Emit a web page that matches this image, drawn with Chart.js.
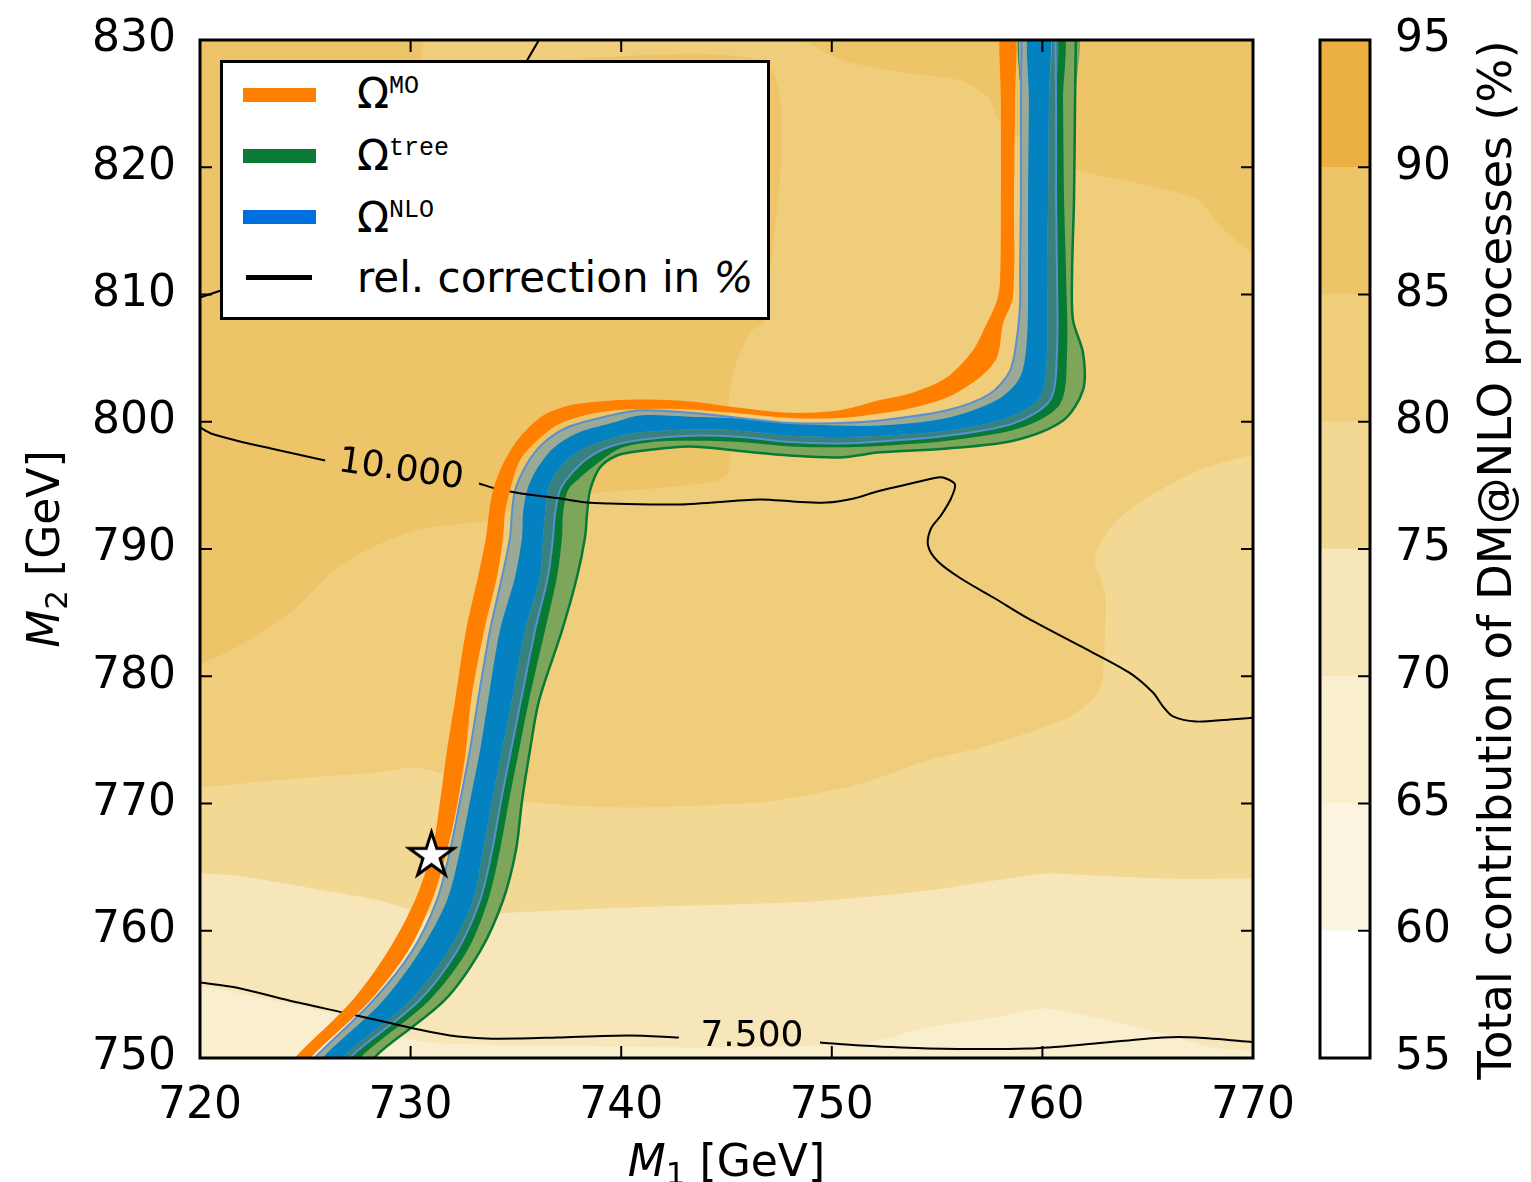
<!DOCTYPE html>
<html>
<head>
<meta charset="utf-8">
<script src="https://cdn.jsdelivr.net/npm/chart.js@4.4.0/dist/chart.umd.min.js"></script>
<style>
  html, body { margin: 0; padding: 0; background: #fff; overflow: hidden; }
  #wrap { position: relative; width: 1531px; height: 1182px; font-family: 'DejaVu Sans', sans-serif; }
  #main { position: absolute; left: 0; top: 0; }
  #bar { position: absolute; left: 1290px; top: 0; }
  #legend { position: absolute; left: 220px; top: 60px; width: 544px; height: 254px; border: 3px solid #000; background: #fff; }
  .sw { position: absolute; left: 20px; width: 73px; height: 14px; }
  .lab { position: absolute; left: 134px; font-size: 42px; line-height: 42px; white-space: nowrap; color: #000; }
  .sup { font-family: 'Liberation Mono', monospace; font-size: 25px; position: relative; top: -15px; }
</style>
</head>
<body>
<div id="wrap">
  <canvas id="main" width="1531" height="1182"></canvas>
  <canvas id="bar" width="241" height="1182"></canvas>
  <div id="legend">
    <div class="sw" style="top:25px;background:#ff8000"></div>
    <div class="lab" style="top:10px">Ω<span class="sup">MO</span></div>
    <div class="sw" style="top:86px;background:#0b7a36"></div>
    <div class="lab" style="top:72px">Ω<span class="sup">tree</span></div>
    <div class="sw" style="top:147px;background:#006edc"></div>
    <div class="lab" style="top:134px">Ω<span class="sup">NLO</span></div>
    <div class="sw" style="top:212px;left:23px;width:66px;height:5px;background:#000"></div>
    <div class="lab" style="top:194px">rel. correction in <i>%</i></div>
  </div>
</div>
<script>
Chart.defaults.font.family = "'DejaVu Sans', sans-serif";

// axes
const xTickValues = [720, 730, 740, 750, 760, 770];
const yTickValues = [750, 760, 770, 780, 790, 800, 810, 820, 830];

// colour levels (total contribution in %)
const levelEdges = [55, 60, 65, 70, 75, 80, 85, 90, 95];
const levelColors = ['#ffffff', '#fbf4e0', '#f9eece', '#f6e6b9', '#f2d892', '#f0cd7a', '#eec468', '#ebb040'];

// filled contour regions [M1, M2]
const fillBase80 = [[719, 749], [771, 749], [771, 831], [719, 831]];
const fill85Left = [[719, 831], [730.45, 831], [730.68, 828.23], [746.83, 828.23], [746.83, 807.96], [746.21, 807.17], [745.93, 806.39], [745.45, 804.58], [745.12, 801.91], [745.12, 796.17], [744.60, 795.38], [742.03, 794.83], [738.66, 794.36], [735.24, 793.26], [733.58, 792.24], [730.16, 791.45], [726.79, 788.86], [724.23, 784.93], [721.71, 782.26], [720, 781.0], [719, 780.6]];
const fill85Top = [[748.63, 831], [771, 831], [771, 813.38], [770, 813.38], [768.57, 815.19], [767.29, 817.54], [764.11, 818.88], [761.74, 819.74], [759.89, 821.32], [758.03, 823.36], [757.42, 825.48], [756.13, 826.82], [753.76, 827.37], [750.53, 828.39], [748.63, 830]];
const fill75 = [[771, 797.43], [770, 797.43], [767.29, 796.09], [764.92, 793.97], [763.30, 791.85], [762.50, 789.25], [762.97, 786.58], [762.97, 783.44], [762.83, 779.51], [762.36, 778.09], [760.93, 776.52], [757.75, 774.72], [754.57, 773.38], [751.39, 771.57], [748.21, 770.47], [746.59, 770.08], [740.37, 769.69], [735.24, 770.24], [731.87, 772.20], [730.16, 772.83], [728.50, 772.44], [725.08, 772.04], [720, 771.26], [719, 771.2], [719, 749], [771, 749]];
const fill70 = [[719, 764.5], [720, 764.50], [721.71, 764.34], [725.08, 763.40], [728.50, 762.38], [730.87, 761.36], [733.58, 761.36], [736.95, 761.59], [740.37, 761.83], [746.59, 762.14], [749.77, 762.38], [754.57, 763.16], [757.75, 763.95], [760.12, 764.50], [762.50, 764.34], [765.73, 764.11], [770, 764.11], [771, 764.11], [771, 749], [719, 749]];
const fill65 = [[719, 755.8], [720, 755.70], [722.37, 754.91], [725.70, 753.73], [728.55, 752.16], [730.92, 751.22], [737.09, 750.98], [743.74, 750.83], [751.39, 751.14], [754.57, 752.40], [757.75, 753.18], [760.12, 753.89], [762.50, 753.18], [765.73, 751.93], [768.10, 750.83], [770, 750.59], [771, 750.55], [771, 749], [719, 749]];

// relic density bands: edges of each band [M1, M2]
const moLeft = [[723.94, 749.0], [724.84, 750.6], [727.22, 754.5], [728.93, 758.4], [730.21, 762.4], [731.02, 766.3], [731.40, 770.2], [731.73, 774.2], [732.11, 778.1], [732.63, 783.6], [733.20, 787.8], [733.58, 790.9], [733.72, 792.8], [733.91, 794.6], [734.39, 796.7], [735.19, 798.8], [736.29, 800.5], [737.57, 801.3], [738.99, 801.6], [740.89, 801.75], [743.27, 801.6], [745.64, 801.1], [748.01, 800.7], [750.39, 800.9], [752.29, 801.7], [753.86, 802.3], [755.47, 803.5], [756.70, 805.6], [757.27, 807.4], [757.84, 809.5], [757.99, 811.1], [758.03, 817.4], [758.03, 825.25], [758.03, 831.5]];
const moRight = [[724.65, 749.0], [725.60, 750.6], [728.07, 754.5], [729.88, 758.4], [731.02, 762.4], [731.73, 766.3], [732.25, 770.2], [732.63, 774.2], [732.87, 778.1], [733.49, 783.6], [734.10, 787.8], [734.39, 790.9], [734.48, 792.8], [734.72, 794.6], [735.19, 796.95], [736.00, 798.5], [737.09, 799.86], [738.66, 800.65], [740.28, 800.96], [742.79, 801.0], [745.64, 800.65], [748.01, 800.3], [750.39, 800.3], [752.29, 800.65], [753.86, 801.1], [755.47, 801.9], [757.04, 803.5], [757.84, 805.05], [758.13, 807.7], [758.60, 809.8], [758.65, 817.4], [758.70, 825.25], [758.70, 831.5]];
const nloLeft = [[724.84, 749.0], [725.79, 750.6], [728.21, 754.5], [730.07, 758.4], [731.25, 762.4], [731.87, 766.3], [732.35, 770.2], [732.82, 774.2], [733.20, 778.1], [733.77, 783.6], [734.34, 787.8], [734.72, 790.9], [734.81, 792.8], [734.96, 794.6], [735.53, 796.7], [736.29, 798.3], [737.43, 799.55], [738.99, 800.3], [740.89, 800.9], [743.27, 800.7], [745.64, 800.3], [748.01, 799.9], [750.39, 799.9], [752.29, 800.1], [755.47, 800.9], [757.51, 802.2], [758.46, 804.0], [758.79, 806.6], [758.94, 809.3], [758.94, 811.9], [758.98, 817.4], [758.98, 825.25], [759.03, 831.5]];
const nloCoreLeft = [[725.22, 749.0], [726.17, 750.6], [728.69, 754.5], [730.45, 758.4], [731.73, 762.4], [732.35, 766.3], [732.82, 770.2], [733.30, 774.2], [733.68, 778.1], [734.24, 783.6], [734.96, 787.8], [735.29, 790.9], [735.34, 792.8], [735.53, 794.6], [736.00, 796.3], [736.76, 797.9], [737.90, 799.1], [739.47, 799.86], [740.89, 800.5], [743.27, 800.4], [745.64, 800.26], [748.01, 799.86], [750.39, 799.7], [752.29, 799.7], [755.47, 800.3], [757.84, 801.7], [758.94, 803.5], [759.27, 806.6], [759.32, 811.9], [759.32, 817.4], [759.36, 825.25], [759.36, 831.5]];
const nloCoreRight = [[726.17, 749.0], [727.12, 750.6], [729.97, 754.5], [731.78, 758.4], [732.96, 762.4], [733.44, 766.3], [733.87, 770.2], [734.34, 774.2], [734.81, 778.1], [735.43, 783.6], [736.14, 787.8], [736.29, 790.9], [736.38, 792.8], [736.52, 794.6], [737.00, 796.2], [737.81, 797.5], [738.99, 798.4], [740.56, 799.1], [743.27, 799.4], [745.64, 799.3], [748.01, 798.9], [750.39, 798.8], [752.29, 798.9], [755.47, 799.3], [758.32, 800.3], [759.89, 801.9], [760.22, 805.4], [760.22, 811.9], [760.27, 817.4], [760.31, 825.25], [760.31, 831.5]];
const nloRight = [[726.55, 749.0], [727.50, 750.6], [730.40, 754.5], [732.20, 758.4], [733.30, 762.4], [733.87, 766.3], [734.29, 770.2], [734.77, 774.2], [735.24, 778.1], [735.91, 783.6], [736.52, 787.8], [736.76, 790.9], [736.86, 792.8], [737.09, 794.6], [737.57, 795.8], [738.38, 797.1], [739.47, 798.06], [741.03, 798.6], [743.27, 798.9], [745.64, 798.8], [748.01, 798.4], [750.39, 798.3], [752.29, 798.45], [755.47, 798.9], [758.60, 799.86], [760.36, 801.7], [760.69, 805.4], [760.69, 811.9], [760.65, 817.4], [760.65, 825.25], [760.60, 831.5]];
const treeMid = [[727.03, 749.0], [727.98, 750.6], [730.87, 754.5], [732.68, 758.4], [733.68, 762.4], [734.24, 766.3], [734.67, 770.2], [735.15, 774.2], [735.62, 778.1], [736.38, 783.6], [736.95, 787.8], [737.19, 790.9], [737.24, 792.8], [737.47, 794.6], [738.04, 795.6], [738.85, 796.7], [739.94, 797.9], [741.51, 798.4], [743.27, 798.5], [745.64, 798.4], [748.01, 798.06], [750.39, 798.0], [752.29, 798.1], [755.47, 798.5], [758.94, 799.5], [760.84, 801.4], [761.17, 805.4], [761.12, 811.9], [761.03, 817.4], [760.98, 825.25], [760.93, 831.5]];
const treeRight = [[727.69, 749.0], [728.64, 750.6], [731.59, 754.5], [733.30, 758.4], [734.39, 762.4], [735.00, 766.3], [735.29, 770.2], [735.67, 774.2], [736.10, 778.1], [737.19, 783.6], [737.90, 787.8], [738.28, 790.9], [738.38, 792.8], [738.52, 794.6], [738.99, 796.4], [739.80, 797.35], [740.89, 797.7], [743.27, 798.06], [745.64, 797.7], [748.01, 797.35], [750.39, 797.2], [752.29, 797.6], [755.47, 797.9], [758.60, 798.5], [760.98, 800.1], [761.93, 802.5], [761.93, 805.4], [761.45, 808.0], [761.41, 811.9], [761.50, 817.4], [761.55, 825.25], [761.60, 831.5]];

// relative correction contours [M1, M2]
const corr10Left = [[720.0, 799.55], [720.52, 799.08], [721.71, 798.53], [723.37, 797.90], [725.94, 796.96]];
const corr10Right = [[733.25, 795.15], [734.05, 794.75], [735.24, 794.36], [737.09, 793.97], [738.38, 793.65], [739.47, 793.58], [742.79, 793.50], [746.59, 793.89], [748.16, 793.73], [749.77, 793.65], [751.05, 793.97], [752.15, 794.52], [753.76, 795.15], [755.04, 795.62], [755.42, 795.54], [755.85, 795.07], [755.66, 793.97], [755.18, 792.63], [754.71, 791.61], [754.57, 790.28], [755.04, 789.02], [756.13, 787.68], [757.75, 786.11], [759.32, 784.54], [761.74, 782.42], [764.11, 780.30], [765.25, 778.72], [765.73, 777.62], [766.20, 776.84], [767.29, 776.44], [768.91, 776.60], [770.24, 776.76]];
const corr75Left = [[720.0, 755.93], [721.71, 755.54], [724.23, 754.52], [726.79, 753.58], [728.50, 752.95], [730.16, 752.32], [731.87, 751.77], [733.58, 751.53], [735.24, 751.53], [736.95, 751.61], [740.37, 751.77], [742.74, 751.61]];
const corr75Right = [[749.44, 751.22], [751.39, 750.98], [754.57, 750.75], [759.32, 750.75], [762.50, 751.14], [765.73, 751.61], [767.29, 751.61], [770.19, 751.22]];
const corrTopStub = [[735.29, 827.6], [735.53, 828.39], [736.14, 830.12]];
const corrLeftStub = [[720.0, 809.76], [720.85, 810.24], [721.42, 810.55]];

const contourLabelText = ['10.000', '7.500'];
const contourLabelX = [729.54, 746.21];
const contourLabelY = [796.17, 751.69];
const contourLabelAngle = [8, 0];

// benchmark point
const starPoint = [730.99, 765.9];

const toPts = a => a.map(p => ({ x: p[0], y: p[1] }));
const band = (a, b) => a.concat(b.slice().reverse());

const datasets = [];
function addPoly(pts, color, tension) {
  datasets.push({
    data: toPts(pts), showLine: true, fill: 'shape', backgroundColor: color,
    borderColor: 'transparent', borderWidth: 0, pointRadius: 0, tension: tension, clip: 0
  });
}
function addLine(pts, color, width) {
  datasets.push({
    data: toPts(pts), showLine: true, fill: false, borderColor: color,
    borderWidth: width, pointRadius: 0, tension: 0.3, clip: 0
  });
}

// background levels
addPoly(fillBase80, levelColors[5], 0);
addPoly(fill85Left, levelColors[6], 0.25);
addPoly(fill85Top, levelColors[6], 0.25);
addPoly(fill75, levelColors[4], 0.25);
addPoly(fill70, levelColors[3], 0.25);
addPoly(fill65, levelColors[2], 0.25);

// tree / NLO bands
addPoly(band(nloLeft, treeRight), '#7da65b', 0.3);
addPoly(band(nloLeft, treeMid), '#077a34', 0.3);
addPoly(band(nloLeft, nloRight), '#37817f', 0.3);
addPoly(band(nloLeft, nloCoreRight), '#9baa97', 0.3);
addPoly(band(nloCoreLeft, nloCoreRight), '#0381c1', 0.3);
addLine(nloLeft, '#5a8fd2', 2);
addLine(nloRight, '#5a8fd2', 2);
addLine(treeRight, '#077a34', 2.5);

// contours
addLine(corr10Left, '#000', 2);
addLine(corr10Right, '#000', 2);
addLine(corr75Left, '#000', 2);
addLine(corr75Right, '#000', 2);
addLine(corrTopStub, '#000', 2);
addLine(corrLeftStub, '#000', 2);

// MicrOMEGAs band on top
addPoly(band(moLeft, moRight), '#ff8000', 0.3);

// star marker
function makeStar(r) {
  const c = document.createElement('canvas');
  const s = Math.ceil(2 * r + 8);
  c.width = s; c.height = s;
  const g = c.getContext('2d');
  g.translate(s / 2, s / 2);
  g.beginPath();
  for (let i = 0; i < 10; i++) {
    const rad = i % 2 ? r * 0.382 : r;
    const a = -Math.PI / 2 + i * Math.PI / 5;
    g.lineTo(rad * Math.cos(a), rad * Math.sin(a));
  }
  g.closePath();
  g.fillStyle = '#fff';
  g.fill();
  g.lineWidth = 3;
  g.strokeStyle = '#000';
  g.stroke();
  return c;
}
datasets.push({ data: toPts([starPoint]), pointStyle: makeStar(23.5), pointRadius: 24, showLine: false });

// first dataset in the list is drawn first
datasets.forEach((d, i) => { d.order = datasets.length - i; });

const contourText = {
  id: 'contourText',
  afterDatasetsDraw(chart) {
    const { ctx, scales: { x, y } } = chart;
    ctx.save();
    ctx.font = "36px 'DejaVu Sans'";
    ctx.fillStyle = '#000';
    ctx.textAlign = 'center';
    ctx.textBaseline = 'middle';
    contourLabelText.forEach((t, i) => {
      ctx.save();
      ctx.translate(x.getPixelForValue(contourLabelX[i]), y.getPixelForValue(contourLabelY[i]));
      ctx.rotate(contourLabelAngle[i] * Math.PI / 180);
      ctx.fillText(t, 0, 0);
      ctx.restore();
    });
    ctx.restore();
  }
};

const axesFrame = {
  id: 'axesFrame',
  afterDatasetsDraw(chart) {
    const { ctx, chartArea: a, scales: { x, y } } = chart;
    ctx.save();
    ctx.strokeStyle = '#000';
    ctx.lineWidth = 2;
    ctx.beginPath();
    xTickValues.forEach(v => {
      const px = x.getPixelForValue(v);
      ctx.moveTo(px, a.bottom); ctx.lineTo(px, a.bottom - 12);
      ctx.moveTo(px, a.top); ctx.lineTo(px, a.top + 12);
    });
    yTickValues.forEach(v => {
      const py = y.getPixelForValue(v);
      ctx.moveTo(a.left, py); ctx.lineTo(a.left + 12, py);
      ctx.moveTo(a.right, py); ctx.lineTo(a.right - 12, py);
    });
    ctx.stroke();
    ctx.lineWidth = 3;
    ctx.strokeRect(a.left, a.top, a.right - a.left, a.bottom - a.top);
    ctx.restore();
  }
};

// M_1 / M_2 titles with italic M and subscript
function drawMassTitle(ctx, idx) {
  const big = "44px 'DejaVu Sans'";
  ctx.font = "italic " + big;
  const wM = ctx.measureText('M').width;
  ctx.font = "31px 'DejaVu Sans'";
  const wS = ctx.measureText(idx).width;
  ctx.font = big;
  const wR = ctx.measureText(' [GeV]').width;
  let x0 = -(wM + wS + wR) / 2;
  ctx.textAlign = 'left';
  ctx.textBaseline = 'alphabetic';
  ctx.font = "italic " + big;
  ctx.fillText('M', x0, 0);
  ctx.font = "31px 'DejaVu Sans'";
  ctx.fillText(idx, x0 + wM, 8);
  ctx.font = big;
  ctx.fillText(' [GeV]', x0 + wM + wS, 0);
}
const axisTitles = {
  id: 'axisTitles',
  afterDraw(chart) {
    const { ctx, chartArea: a } = chart;
    ctx.save();
    ctx.fillStyle = '#000';
    ctx.translate((a.left + a.right) / 2, 1176);
    drawMassTitle(ctx, '1');
    ctx.restore();
    ctx.save();
    ctx.fillStyle = '#000';
    ctx.translate(59, (a.top + a.bottom) / 2);
    ctx.rotate(-Math.PI / 2);
    drawMassTitle(ctx, '2');
    ctx.restore();
  }
};

new Chart(document.getElementById('main'), {
  type: 'scatter',
  data: { datasets: datasets },
  options: {
    responsive: false,
    animation: false,
    layout: { padding: { left: 0, top: 40, right: 278, bottom: 0 } },
    plugins: { legend: { display: false }, tooltip: { enabled: false } },
    scales: {
      x: {
        type: 'linear', min: 720, max: 770,
        afterBuildTicks: s => { s.ticks = xTickValues.map(v => ({ value: v })); },
        ticks: { color: '#000', font: { size: 44 }, padding: 22, maxRotation: 0, autoSkip: false },
        grid: { display: false, drawTicks: false },
        border: { display: false },
        afterFit: s => { s.height = 124; s.paddingLeft = 0; s.paddingRight = 0; }
      },
      y: {
        type: 'linear', min: 750, max: 830,
        afterBuildTicks: s => { s.ticks = yTickValues.map(v => ({ value: v })); },
        ticks: { color: '#000', font: { size: 44 }, padding: 24, autoSkip: false },
        grid: { display: false, drawTicks: false },
        border: { display: false },
        afterFit: s => { s.width = 200; s.paddingTop = 0; s.paddingBottom = 0; }
      }
    }
  },
  plugins: [contourText, axesFrame, axisTitles]
});

// colour bar
const cbFrame = {
  id: 'cbFrame',
  afterDatasetsDraw(chart) {
    const { ctx, chartArea: a, scales: { y } } = chart;
    ctx.save();
    ctx.strokeStyle = '#000';
    ctx.lineWidth = 2;
    ctx.beginPath();
    levelEdges.slice(1, -1).forEach(v => {
      const py = y.getPixelForValue(v);
      ctx.moveTo(a.right, py); ctx.lineTo(a.right - 12, py);
    });
    ctx.stroke();
    ctx.lineWidth = 3;
    ctx.strokeRect(a.left, a.top, a.right - a.left, a.bottom - a.top);
    ctx.restore();
  },
  afterDraw(chart) {
    const { ctx } = chart;
    ctx.save();
    ctx.fillStyle = '#000';
    ctx.font = "46.5px 'DejaVu Sans'";
    ctx.textAlign = 'center';
    ctx.textBaseline = 'alphabetic';
    ctx.translate(221, 560);
    ctx.rotate(-Math.PI / 2);
    ctx.fillText('Total contribution of DM@NLO processes (%)', 0, 0);
    ctx.restore();
  }
};

new Chart(document.getElementById('bar'), {
  type: 'bar',
  data: {
    labels: [''],
    datasets: levelColors.map((c, i) => ({
      data: [[levelEdges[i], levelEdges[i + 1]]],
      backgroundColor: c, borderWidth: 0, grouped: false,
      barPercentage: 1, categoryPercentage: 1
    }))
  },
  options: {
    responsive: false,
    animation: false,
    layout: { padding: { left: 30, top: 40, right: 0, bottom: 124 } },
    plugins: { legend: { display: false }, tooltip: { enabled: false } },
    scales: {
      x: { display: false },
      y: {
        position: 'right', min: 55, max: 95,
        afterBuildTicks: s => { s.ticks = levelEdges.map(v => ({ value: v })); },
        ticks: { color: '#000', font: { size: 44 }, padding: 25, autoSkip: false },
        grid: { display: false, drawTicks: false },
        border: { display: false },
        afterFit: s => { s.width = 161; s.paddingTop = 0; s.paddingBottom = 0; }
      }
    }
  },
  plugins: [cbFrame]
});
</script>
</body>
</html>
